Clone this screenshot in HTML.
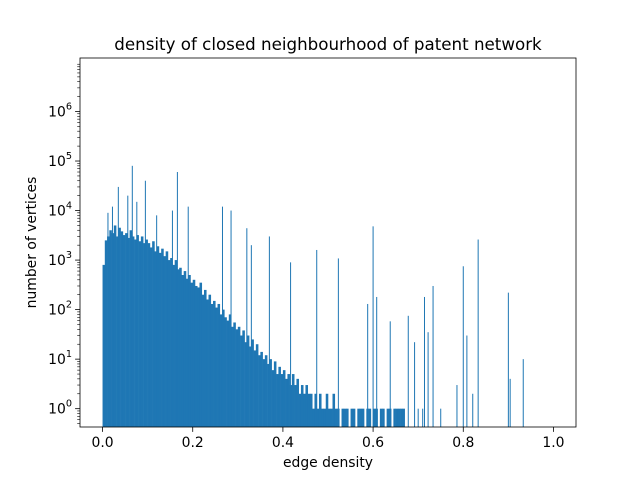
<!DOCTYPE html>
<html><head><meta charset="utf-8"><style>
body{margin:0;background:#fff}
svg{display:block;font-family:"DejaVu Sans","Liberation Sans",sans-serif}
</style></head><body>
<svg id="c" width="640" height="480"></svg>
<script>
const binStart = 0;
const binWidth = 0.005;
const bodyCounts = [
800,2500,3000,4000,3500,5000,3000,4500,3800,3200,
3500,2800,4000,3000,2600,3200,2400,3000,2200,2600,
2200,1800,2400,1500,1900,1400,1700,1200,1500,1000,
1100,800,1000,650,700,500,600,420,500,350,
400,300,280,350,200,250,160,200,130,150,
110,130,80,100,70,60,80,45,55,40,
45,30,38,22,30,18,25,15,20,12,
14,10,12,8,10,6,9,5,7,5,
6,4,5,3,5,3,4,2,3,2,
3,2,2,1,2,1,2,1,1,2,
1,1,2,1,1,0,1,1,1,0,
1,1,0,1,1,1,0,1,1,0,
1,1,0,1,1,0,1,1,0,1,1,1,1,1];
const spikeX = [0.012,0.022,0.035,0.056,0.066,0.076,0.095,0.12,0.155,0.166,0.19,0.266,0.285,0.32,0.33,0.37,0.417,0.475,0.523,0.588,0.6,0.608,0.638,0.678,0.692,0.70,0.71,0.714,0.722,0.733,0.75,0.786,0.8,0.808,0.821,0.833,0.9,0.904,0.933];
const spikeY = [9000,12000,30000,20000,80000,15000,40000,8000,10000,60000,12000,12000,10000,4400,2000,3000,900,1600,1080,130,4800,180,58,75,22,1,1,180,35,300,1,3,750,30,2,2600,220,4,10];
const xTicks = [0,0.2,0.4,0.6,0.8,1.0];
const xTickLabels = ["0.0","0.2","0.4","0.6","0.8","1.0"];
const yTickExps = [0,1,2,3,4,5,6];

const svg = document.getElementById('c');
const NS = 'http://www.w3.org/2000/svg';
const L=80,R=576,T=58,B=427;
const xMin=-0.05,xMax=1.05, yMinE=-0.37, yMaxE=7.08;
function X(v){return L+(v-xMin)/(xMax-xMin)*(R-L);}
function Y(c){return B-(Math.log10(c)-yMinE)/(yMaxE-yMinE)*(B-T);}
function mk(tag,attrs,parent){const e=document.createElementNS(NS,tag);for(const k in attrs)e.setAttribute(k,attrs[k]);(parent||svg).appendChild(e);return e;}

const bars = mk('g',{});


bodyCounts.forEach((c,i)=>{
  if(c<=0) return;
  const x0=X(binStart+i*binWidth), x1=X(binStart+(i+1)*binWidth);
  const r=mk('rect',{x:x0,y:Y(c),width:x1-x0+0.3,height:B-Y(c),fill:'#1f77b4'},bars);
  
  
});
spikeX.forEach((s,i)=>{
  const c=spikeY[i];
  const r=mk('rect',{x:X(s)-0.5,y:Y(c),width:1,height:B-Y(c),fill:'#1f77b4'},bars);
  
  
});

const frame=mk('rect',{x:L,y:T,width:R-L,height:B-T,fill:'none',stroke:'#000','stroke-width':0.8});



xTicks.forEach((v,i)=>{
  const x=X(v);
  mk('line',{x1:x,x2:x,y1:B,y2:B+4.9,stroke:'#000','stroke-width':0.8});
  const t=mk('text',{x:x,y:B+20,'font-size':13.9,'text-anchor':'middle'});
  t.textContent=xTickLabels[i];
  
  
});
yTickExps.forEach(e=>{
  const y=Y(Math.pow(10,e));
  mk('line',{x1:L-4.9,x2:L,y1:y,y2:y,stroke:'#000','stroke-width':0.8});
  const t=mk('text',{x:L-8,y:y+5,'font-size':13.9,'text-anchor':'end'});
  
  
  const a=mk('tspan',{},t);a.textContent='10';
  const b=mk('tspan',{dy:-7,'font-size':9.7},t);b.textContent=String(e);
});
for(let e=-1;e<=7;e++)for(let m=2;m<=9;m++){
  const c=m*Math.pow(10,e); const y=Y(c);
  if(y<T||y>B) continue;
  mk('line',{x1:L-2.8,x2:L,y1:y,y2:y,stroke:'#000','stroke-width':0.6});
}
const title=mk('text',{x:(L+R)/2,y:50,'font-size':16.7,'text-anchor':'middle'});
title.textContent='density of closed neighbourhood of patent network';


const xl=mk('text',{x:(L+R)/2,y:467,'font-size':13.9,'text-anchor':'middle'});
xl.textContent='edge density';


const yl=mk('text',{x:0,y:0,'font-size':13.9,'text-anchor':'middle',transform:'translate(36,'+((T+B)/2)+') rotate(-90)'});
yl.textContent='number of vertices';


</script>
</body></html>
